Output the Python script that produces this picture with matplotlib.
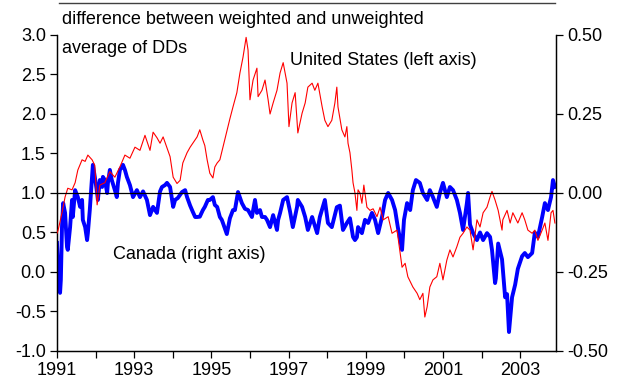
import numpy as np
import matplotlib
matplotlib.use("Agg")
import matplotlib.pyplot as plt
from matplotlib.lines import Line2D

plt.rcParams['font.family'] = ['Liberation Sans', 'DejaVu Sans']
plt.rcParams['font.size'] = 13

# United States, weighted minus unweighted average DD (left axis)
us_years = [1991.00, 1991.03, 1991.13, 1991.21, 1991.28, 1991.39, 1991.47, 1991.54, 1991.65, 1991.73,
            1991.80, 1991.91, 1991.98, 1992.04, 1992.11, 1992.24, 1992.37, 1992.50, 1992.63, 1992.76,
            1992.89, 1993.02, 1993.15, 1993.28, 1993.41, 1993.49, 1993.59, 1993.67, 1993.75, 1993.85,
            1993.93, 1994.01, 1994.11, 1994.19, 1994.26, 1994.37, 1994.45, 1994.52, 1994.63, 1994.70,
            1994.78, 1994.83, 1994.89, 1994.96, 1995.04, 1995.09, 1995.15, 1995.22, 1995.30, 1995.40,
            1995.48, 1995.56, 1995.66, 1995.74, 1995.82, 1995.90, 1995.95, 1996.00, 1996.08, 1996.18,
            1996.21, 1996.31, 1996.39, 1996.47, 1996.52, 1996.60, 1996.70, 1996.78, 1996.86, 1996.91,
            1996.96, 1997.01, 1997.09, 1997.17, 1997.24, 1997.35, 1997.43, 1997.50, 1997.61, 1997.68,
            1997.76, 1997.87, 1997.94, 1998.02, 1998.12, 1998.20, 1998.25, 1998.28, 1998.38, 1998.46,
            1998.51, 1998.54, 1998.59, 1998.64, 1998.67, 1998.72, 1998.77, 1998.80, 1998.85, 1998.90,
            1998.95, 1999.03, 1999.11, 1999.19, 1999.29, 1999.37, 1999.45, 1999.58, 1999.68, 1999.81,
            1999.89, 1999.94, 2000.02, 2000.09, 2000.22, 2000.33, 2000.40, 2000.48, 2000.53, 2000.59,
            2000.66, 2000.74, 2000.84, 2000.92, 2001.00, 2001.10, 2001.18, 2001.26, 2001.36, 2001.44,
            2001.52, 2001.62, 2001.70, 2001.78, 2001.88, 2001.96, 2002.04, 2002.14, 2002.22, 2002.27,
            2002.35, 2002.43, 2002.53, 2002.55, 2002.66, 2002.74, 2002.81, 2002.94, 2003.05, 2003.12,
            2003.20, 2003.31, 2003.38, 2003.46, 2003.57, 2003.64, 2003.72, 2003.80, 2003.85, 2003.90]
us_diff = [0.49, 0.53, 0.75, 0.95, 1.06, 1.04, 1.13, 1.29, 1.42, 1.40,
           1.48, 1.42, 1.35, 0.85, 1.10, 1.13, 1.27, 1.20, 1.33, 1.48,
           1.44, 1.58, 1.54, 1.73, 1.54, 1.77, 1.70, 1.63, 1.71, 1.57,
           1.46, 1.20, 1.12, 1.16, 1.38, 1.51, 1.58, 1.63, 1.71, 1.80,
           1.67, 1.60, 1.42, 1.25, 1.19, 1.33, 1.38, 1.42, 1.58, 1.78,
           1.94, 2.09, 2.27, 2.52, 2.72, 2.97, 2.81, 2.18, 2.43, 2.58,
           2.22, 2.30, 2.43, 2.18, 2.00, 2.14, 2.30, 2.52, 2.65, 2.52,
           2.39, 1.84, 2.14, 2.27, 1.76, 2.01, 2.14, 2.34, 2.39, 2.30,
           2.39, 2.09, 1.92, 1.84, 1.92, 2.14, 2.34, 2.09, 1.80, 1.71,
           1.84, 1.63, 1.51, 1.29, 1.13, 1.00, 0.78, 1.04, 1.00, 0.87,
           1.10, 0.82, 0.78, 0.80, 0.70, 0.82, 0.66, 0.70, 0.49, 0.53,
           0.24, 0.06, 0.11, -0.06, -0.19, -0.27, -0.35, -0.27, -0.57, -0.44,
           -0.19, -0.10, -0.06, 0.11, -0.10, 0.15, 0.28, 0.19, 0.32, 0.44,
           0.49, 0.57, 0.53, 0.28, 0.66, 0.57, 0.75, 0.82, 0.95, 1.02,
           0.91, 0.78, 0.53, 0.66, 0.78, 0.62, 0.75, 0.62, 0.75, 0.66,
           0.53, 0.49, 0.53, 0.40, 0.53, 0.62, 0.40, 0.75, 0.78, 0.62]

# Canada (right axis)
ca_years = [1991.00, 1991.03, 1991.08, 1991.10, 1991.13, 1991.16, 1991.21, 1991.26, 1991.28, 1991.34,
            1991.39, 1991.41, 1991.47, 1991.54, 1991.60, 1991.65, 1991.67, 1991.73, 1991.78, 1991.80,
            1991.85, 1991.91, 1991.93, 1991.98, 1992.04, 1992.06, 1992.11, 1992.17, 1992.19, 1992.24,
            1992.30, 1992.32, 1992.37, 1992.42, 1992.50, 1992.55, 1992.58, 1992.63, 1992.68, 1992.71,
            1992.76, 1992.81, 1992.89, 1992.97, 1993.07, 1993.15, 1993.23, 1993.33, 1993.41, 1993.49,
            1993.54, 1993.59, 1993.67, 1993.72, 1993.80, 1993.85, 1993.93, 1994.01, 1994.06, 1994.13,
            1994.24, 1994.32, 1994.37, 1994.45, 1994.52, 1994.58, 1994.63, 1994.70, 1994.78, 1994.83,
            1994.91, 1994.96, 1995.04, 1995.09, 1995.15, 1995.22, 1995.27, 1995.30, 1995.40, 1995.48,
            1995.56, 1995.61, 1995.69, 1995.79, 1995.87, 1995.95, 1996.05, 1996.13, 1996.18, 1996.26,
            1996.31, 1996.39, 1996.44, 1996.52, 1996.60, 1996.70, 1996.73, 1996.78, 1996.86, 1996.96,
            1997.04, 1997.11, 1997.22, 1997.24, 1997.35, 1997.43, 1997.50, 1997.61, 1997.74, 1997.81,
            1997.94, 1998.02, 1998.12, 1998.25, 1998.33, 1998.41, 1998.51, 1998.59, 1998.67, 1998.72,
            1998.77, 1998.80, 1998.85, 1998.90, 1998.98, 1999.06, 1999.16, 1999.24, 1999.32, 1999.42,
            1999.50, 1999.58, 1999.68, 1999.76, 1999.83, 1999.94, 1999.99, 2000.07, 2000.15, 2000.22,
            2000.30, 2000.40, 2000.48, 2000.59, 2000.66, 2000.74, 2000.84, 2000.92, 2001.00, 2001.10,
            2001.18, 2001.26, 2001.36, 2001.44, 2001.52, 2001.62, 2001.65, 2001.70, 2001.78, 2001.88,
            2001.96, 2002.04, 2002.14, 2002.22, 2002.27, 2002.35, 2002.37, 2002.43, 2002.53, 2002.61,
            2002.66, 2002.71, 2002.79, 2002.87, 2002.94, 2003.05, 2003.12, 2003.20, 2003.31, 2003.38,
            2003.46, 2003.57, 2003.64, 2003.72, 2003.80, 2003.85, 2003.90]
ca_diff = [-0.158, -0.253, -0.316, -0.275, -0.108, -0.032, -0.063, -0.171, -0.180, -0.108,
           -0.022, -0.076, 0.009, -0.013, -0.044, -0.022, -0.085, -0.108, -0.149, -0.127,
           -0.054, 0.051, 0.089, 0.051, 0.000, -0.022, 0.041, 0.019, 0.051, 0.041,
           0.000, 0.032, 0.073, 0.041, 0.009, -0.013, 0.032, 0.073, 0.082, 0.089,
           0.073, 0.051, 0.025, -0.013, 0.009, -0.013, 0.005, -0.022, -0.070, -0.044,
           -0.054, -0.063, 0.005, 0.019, 0.025, 0.032, 0.019, -0.044, -0.022, -0.016,
           0.003, 0.009, -0.013, -0.040, -0.060, -0.076, -0.076, -0.075, -0.054, -0.044,
           -0.022, -0.022, -0.013, -0.038, -0.044, -0.076, -0.085, -0.095, -0.130, -0.080,
           -0.054, -0.054, 0.003, -0.032, -0.050, -0.054, -0.076, -0.022, -0.063, -0.054,
           -0.076, -0.076, -0.085, -0.108, -0.070, -0.117, -0.085, -0.063, -0.022, -0.013,
           -0.060, -0.108, -0.044, -0.022, -0.044, -0.076, -0.117, -0.076, -0.127, -0.076,
           -0.022, -0.095, -0.108, -0.045, -0.040, -0.117, -0.095, -0.080, -0.139, -0.149,
           -0.140, -0.108, -0.117, -0.127, -0.085, -0.095, -0.063, -0.085, -0.127, -0.076,
           -0.022, 0.000, -0.022, -0.054, -0.108, -0.180, -0.085, -0.032, -0.054, 0.009,
           0.041, 0.032, 0.000, -0.022, 0.009, -0.013, -0.044, 0.000, 0.032, -0.013,
           0.019, 0.009, -0.022, -0.063, -0.117, -0.032, 0.000, -0.100, -0.127, -0.149,
           -0.125, -0.149, -0.127, -0.139, -0.180, -0.285, -0.270, -0.160, -0.210, -0.330,
           -0.320, -0.440, -0.330, -0.290, -0.240, -0.200, -0.190, -0.203, -0.190, -0.125,
           -0.139, -0.076, -0.032, -0.054, -0.013, 0.041, 0.019]

left_ticks = np.arange(-1.0, 3.01, 0.5)
right_ticks = np.arange(-0.5, 0.51, 0.25)
year_ticks = list(range(1991, 2004))

fig = plt.figure(figsize=(6.22, 3.88), dpi=100)
ax = fig.add_axes([0.0916, 0.0954, 0.8024, 0.8144])
ax2 = ax.twinx()

ax.plot(us_years, us_diff, color='#ff0000', lw=0.8, zorder=3)
ax2.plot(ca_years, ca_diff, color='#0000ff', lw=2.8, zorder=2)
ax.axhline(1.0, color='black', lw=0.9, zorder=4)

ax.set_xlim(1991, 2003.93)
ax.set_ylim(-1.0, 3.0)
ax2.set_ylim(-0.5, 0.5)

ax.set_xticks(year_ticks)
ax.set_xticklabels([str(y) if y % 2 == 1 else '' for y in year_ticks])
ax.set_yticks(left_ticks)
ax.set_yticklabels(['%.1f' % v for v in left_ticks])
ax2.set_yticks(right_ticks)
ax2.set_yticklabels(['%.2f' % v for v in right_ticks])

for a in (ax, ax2):
    a.spines['top'].set_visible(False)
    for s in a.spines.values():
        s.set_linewidth(0.9)
    a.tick_params(direction='out', length=5, width=0.9, labelsize=13, pad=3)
ax.set_zorder(ax2.get_zorder() + 1)
ax.patch.set_visible(False)

ax.text(0.01, 1.05, 'difference between weighted and unweighted', transform=ax.transAxes,
        va='center', ha='left')
ax.text(0.01, 0.956, 'average of DDs', transform=ax.transAxes, va='center', ha='left')
ax.text(1997.03, 2.68, 'United States (left axis)', va='center', ha='left')
ax.text(1992.45, 0.22, 'Canada (right axis)', va='center', ha='left')

fig.add_artist(Line2D([59 / 622, 555 / 622], [1 - 2.5 / 388, 1 - 2.5 / 388],
                      color='#404040', lw=1.0))

fig.savefig('out.png', dpi=100)
